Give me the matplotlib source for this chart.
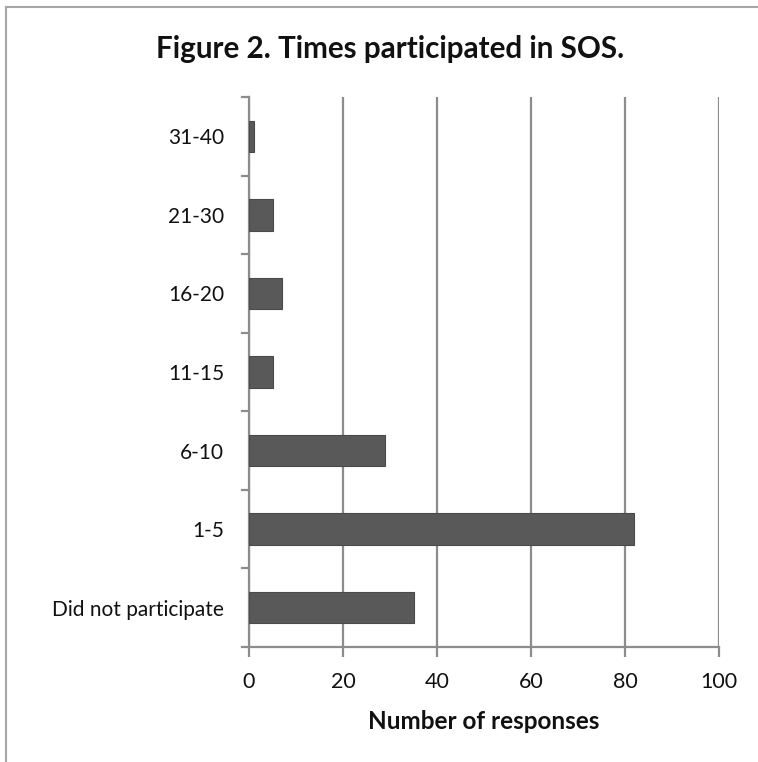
import matplotlib
matplotlib.use("Agg")
import matplotlib.pyplot as plt
from matplotlib.lines import Line2D

categories = ["Did not participate", "1-5", "6-10", "11-15", "16-20", "21-30", "31-40"]
responses = [35, 82, 29, 5, 7, 5, 1]
x_ticks = [0, 20, 40, 60, 80, 100]

title = "Figure 2. Times participated in SOS."
x_label = "Number of responses"

plt.rcParams["font.family"] = ["Lato", "DejaVu Sans"]

W, H = 758, 762
fig = plt.figure(figsize=(W / 100, H / 100), dpi=100)
fig.patch.set_facecolor("white")

# plot area in pixel terms
left, right, top, bottom = 249, 719, 97, 647
ax = fig.add_axes([left / W, 1 - bottom / H, (right - left) / W, (bottom - top) / H])

grid_c = "#8c8c8c"
text_c = "#111111"
ax.set_xlim(0, 100)
ax.set_ylim(-0.5, len(categories) - 0.5)
ax.set_xticks(x_ticks)
ax.set_xticklabels([str(t) for t in x_ticks], fontsize=15.5, color=text_c)
ax.xaxis.grid(True, color=grid_c, linewidth=1.6)
ax.set_axisbelow(True)

ypos = list(range(len(categories)))
ax.barh(ypos, responses, height=0.4, color="#595959", edgecolor="#4a4a4a", linewidth=0.8, zorder=3)

# category labels centred on the bars, ticks between categories
ax.set_yticks(ypos)
ax.set_yticklabels(categories, fontsize=15, color=text_c)
ax.tick_params(axis="y", length=0, pad=18)
for b in [i - 0.5 for i in range(len(categories) + 1)]:
    ax.plot([-1.5, 0], [b, b], color=grid_c, linewidth=1.6, clip_on=False, zorder=2)
ax.tick_params(axis="x", length=7, width=1.6, color=grid_c, pad=11)

for s in ["top", "right"]:
    ax.spines[s].set_visible(False)
for s in ["left", "bottom"]:
    ax.spines[s].set_color(grid_c)
    ax.spines[s].set_linewidth(1.6)

ax.set_xlabel(x_label, fontsize=17.5, fontweight="bold", labelpad=13, color=text_c)
fig.text(390 / W, 1 - 49 / H, title, ha="center", va="center",
         fontsize=21.3, fontweight="bold", color=text_c)

# chart frame on the left and top edges
fig.add_artist(Line2D([6 / W, 6 / W], [0, 1 - 7 / H], transform=fig.transFigure, color="#a6a6a6", linewidth=1.5))
fig.add_artist(Line2D([6 / W, 1], [1 - 7 / H, 1 - 7 / H], transform=fig.transFigure, color="#a6a6a6", linewidth=1.5))

fig.savefig("out.png", dpi=100, facecolor="white")
